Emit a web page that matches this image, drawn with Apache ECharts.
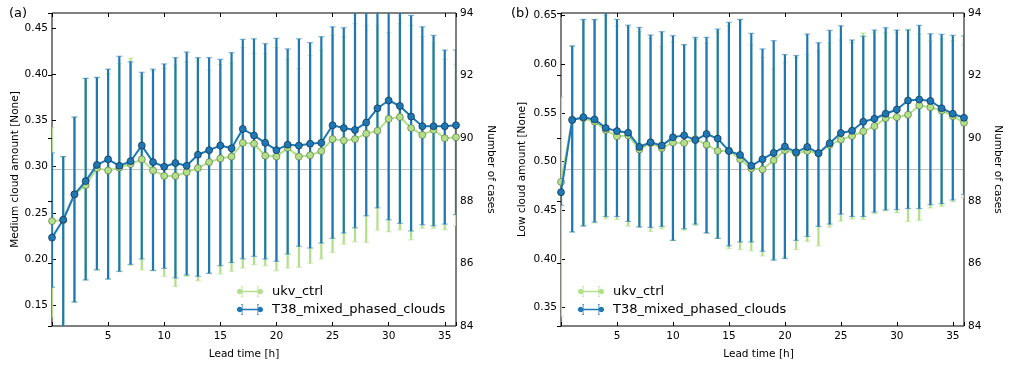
<!DOCTYPE html>
<html>
<head>
<meta charset="utf-8">
<script src="https://cdn.jsdelivr.net/npm/echarts@6/dist/echarts.min.js"></script>
<style>
html,body{margin:0;padding:0;background:#fff;}
#chart{width:1010px;height:367px;}
</style>
</head>
<body>
<div id="chart"></div>
<script>
// ---------------- DATA ----------------
const leadTimes = [0,1,2,3,4,5,6,7,8,9,10,11,12,13,14,15,16,17,18,19,20,21,22,23,24,25,26,27,28,29,30,31,32,33,34,35,36];

// Panel (a): Medium cloud amount
const medCtrlMean = [0.241,0.242,0.270,0.280,0.2985,0.296,0.299,0.303,0.308,0.296,0.290,0.290,0.294,0.2985,0.305,0.309,0.311,0.326,0.325,0.312,0.311,0.3205,0.311,0.3125,0.317,0.330,0.3285,0.330,0.336,0.339,0.352,0.354,0.342,0.3346,0.340,0.331,0.332];
const medCtrlHigh = [0.3426,0.311,0.354,0.396,0.397,0.4008,0.412,0.418,0.398,0.404,0.407,0.4105,0.414,0.415,0.4048,0.411,0.413,0.4294,0.4232,0.4229,0.4294,0.4167,0.4066,0.421,0.4268,0.4427,0.4413,0.4554,0.4536,0.4536,0.4457,0.4554,0.4536,0.4413,0.4348,0.4167,0.4113];
const medCtrlLow  = [0.1365,0.125,0.153,0.177,0.188,0.178,0.186,0.193,0.188,0.1873,0.181,0.170,0.181,0.176,0.184,0.1835,0.1864,0.190,0.1937,0.1925,0.187,0.190,0.1908,0.1951,0.1998,0.207,0.216,0.2186,0.2179,0.2312,0.2294,0.2316,0.2207,0.2331,0.2331,0.2316,0.236];
const medT38Mean  = [0.223,0.2424,0.270,0.2844,0.302,0.308,0.301,0.306,0.323,0.305,0.300,0.304,0.301,0.313,0.318,0.323,0.320,0.341,0.334,0.326,0.318,0.324,0.323,0.325,0.326,0.345,0.342,0.340,0.348,0.3635,0.372,0.366,0.3545,0.344,0.344,0.344,0.345];
const medT38High  = [0.315,0.311,0.354,0.396,0.397,0.406,0.420,0.414,0.4026,0.406,0.4117,0.4185,0.4246,0.4185,0.4185,0.4167,0.424,0.4384,0.439,0.4337,0.4395,0.428,0.439,0.4348,0.4413,0.452,0.451,0.472,0.478,0.482,0.500,0.485,0.4644,0.452,0.4427,0.4268,0.4268];
const medT38Low   = [0.169,0.115,0.153,0.177,0.188,0.178,0.1864,0.194,0.1998,0.1873,0.1897,0.1792,0.1824,0.181,0.1843,0.1925,0.196,0.200,0.2027,0.1998,0.1973,0.2052,0.2136,0.2117,0.2171,0.2222,0.228,0.2337,0.2467,0.2554,0.2424,0.2385,0.2302,0.237,0.2359,0.2377,0.248];

// Panel (b): Low cloud amount
const lowCtrlMean = [0.479,0.543,0.5445,0.5408,0.5322,0.5258,0.5268,0.5122,0.519,0.5136,0.5194,0.519,0.523,0.5173,0.5108,0.511,0.5023,0.4929,0.4918,0.5013,0.5115,0.5085,0.5108,0.5085,0.517,0.5224,0.5261,0.5309,0.5363,0.5445,0.5455,0.548,0.5575,0.5557,0.5523,0.5465,0.5398];
const lowCtrlHigh = [0.566,0.6187,0.645,0.645,0.650,0.639,0.638,0.6333,0.6265,0.618,0.6224,0.6197,0.6255,0.6214,0.633,0.639,0.645,0.620,0.6071,0.5952,0.6016,0.6067,0.610,0.6136,0.6214,0.6248,0.622,0.632,0.632,0.6323,0.632,0.636,0.631,0.6238,0.626,0.624,0.620];
const lowCtrlLow  = [0.341,0.4276,0.4337,0.4368,0.4411,0.4405,0.4337,0.4327,0.4282,0.4309,0.419,0.4293,0.4343,0.4265,0.421,0.4105,0.4095,0.4082,0.403,0.400,0.402,0.4095,0.418,0.4133,0.4327,0.4388,0.441,0.4405,0.4465,0.4493,0.4473,0.4384,0.4394,0.4523,0.454,0.4585,0.463];
const lowT38Mean  = [0.4684,0.5425,0.5455,0.5432,0.5343,0.5312,0.5296,0.5149,0.5197,0.5163,0.5248,0.5268,0.522,0.5282,0.5235,0.5108,0.5067,0.4955,0.5023,0.5088,0.5153,0.5095,0.5149,0.5085,0.5187,0.5292,0.5316,0.5408,0.5439,0.549,0.5534,0.5626,0.5636,0.5622,0.5547,0.549,0.5449];
const lowT38High  = [0.480,0.6187,0.6459,0.6459,0.658,0.6459,0.640,0.6377,0.6299,0.6333,0.6292,0.620,0.6275,0.6275,0.636,0.6429,0.6459,0.6316,0.6156,0.6241,0.6098,0.6088,0.6309,0.622,0.6347,0.6394,0.6248,0.6286,0.635,0.6374,0.635,0.635,0.6398,0.6312,0.6306,0.6296,0.629];
const lowT38Low   = [0.455,0.4276,0.4337,0.4378,0.4435,0.4435,0.4384,0.4327,0.4323,0.4333,0.419,0.4309,0.4357,0.4265,0.421,0.4133,0.4173,0.4173,0.4078,0.3986,0.4003,0.419,0.423,0.4333,0.4357,0.4459,0.4435,0.4435,0.448,0.4503,0.4506,0.4517,0.4517,0.4557,0.4567,0.4605,0.466];

// Number of cases (right axes)
const numCases = [89,89,89,89,89,89,89,89,89,89,89,89,89,89,89,89,89,89,89,89,89,89,89,89,89,89,89,89,89,89,89,89,89,89,89,89,89];

// Tick labels
const xTicks = [5,10,15,20,25,30,35];
const medTicks = [0.15,0.20,0.25,0.30,0.35,0.40,0.45];
const lowTicks = [0.35,0.40,0.45,0.50,0.55,0.60,0.65];
const caseTicks = [84,86,88,90,92,94];

const seriesNames = ['ukv_ctrl','T38_mixed_phased_clouds'];

// ---------------- STYLE ----------------
const GREEN = '#b2df8a', BLUE = '#1f78b4';
const FONT = 'DejaVu Sans';
const FS = 10.5;

function zip(a,b,c){ return leadTimes.map((t,i)=>c?[t,a[i],b[i]]:[t,a[i]]); }

function errRender(color){
  return function(params, api){
    const x = api.value(0);
    const pLo = api.coord([x, api.value(1)]);
    const pHi = api.coord([x, api.value(2)]);
    const cap = 3;
    return {type:'group', children:[
      {type:'line', shape:{x1:pLo[0],y1:pLo[1],x2:pHi[0],y2:pHi[1]}, style:{stroke:color,lineWidth:2.2}},
      {type:'line', shape:{x1:pLo[0]-cap,y1:pLo[1],x2:pLo[0]+cap,y2:pLo[1]}, style:{stroke:color,lineWidth:1.2,opacity:0.55}},
      {type:'line', shape:{x1:pHi[0]-cap,y1:pHi[1],x2:pHi[0]+cap,y2:pHi[1]}, style:{stroke:color,lineWidth:1.2,opacity:0.55}}
    ]};
  };
}

const legendIcon = 'path://M3.2,1H5.2V2H4.6V6.3H21.4V2H20.8V1H22.8V2H22.2V5.1A3,3,0,1,1,22.2,8.9V12H22.8V13H20.8V12H21.4V7.7H4.6V12H5.2V13H3.2V12H3.8V8.9A3,3,0,1,1,3.8,5.1V2H3.2Z';

function xAxes(gridIndex, pos){
  return {
    type:'value', gridIndex, position:pos, min:0, max:36, interval:5,
    axisLine:{show:false},
    axisTick:{show:true, inside:true, length:4, lineStyle:{color:'#000'}},
    splitLine:{show:false},
    axisLabel: pos==='bottom' ? {show:true, customValues:xTicks, color:'#000', fontFamily:FONT, fontSize:FS, margin:5} : {show:false},
    name: pos==='bottom' ? 'Lead time [h]' : '',
    nameLocation:'middle', nameGap:23,
    nameTextStyle:{color:'#000', fontFamily:FONT, fontSize:FS, padding:[0, gridIndex===0?20:8, 0, 0]}
  };
}
function yAxis(gridIndex, pos, min, max, ticks, name, gap, rot, fmt){
  return {
    type:'value', gridIndex, position:pos, min, max,
    axisLine:{show:false},
    axisTick:{show:true, inside:true, length:4, customValues:ticks, lineStyle:{color:'#000'}},
    splitLine:{show:false},
    axisLabel:{show:true, customValues:ticks, color:'#000', fontFamily:FONT, fontSize:FS, margin:4, formatter:fmt},
    name, nameLocation:'middle', nameGap:gap, nameRotate:rot,
    nameTextStyle:{color:'#000', fontFamily:FONT, fontSize:FS}
  };
}

function panelSeries(g, ctrlMean, ctrlLow, ctrlHigh, t38Mean, t38Low, t38High){
  const xi = g, yl = g*2, yr = g*2+1;
  return [
    {type:'line', name:'cases', xAxisIndex:xi, yAxisIndex:yr, data:zip(numCases), symbol:'none', silent:true,
     lineStyle:{color:'#c0c0c0', width:1}, z:1},
    {type:'custom', name:'ctrl_err', xAxisIndex:xi, yAxisIndex:yl, data:zip(ctrlLow,ctrlHigh,true), renderItem:errRender(GREEN), clip:true, z:2},
    {type:'custom', name:'t38_err', xAxisIndex:xi, yAxisIndex:yl, data:zip(t38Low,t38High,true), renderItem:errRender(BLUE), clip:true, z:3},
    {type:'line', name:seriesNames[0], xAxisIndex:xi, yAxisIndex:yl, data:zip(ctrlMean), symbol:'circle', symbolSize:7,
     itemStyle:{color:GREEN, borderColor:'rgba(40,60,30,0.55)', borderWidth:0.8}, lineStyle:{color:GREEN, width:2}, z:4, clip:true},
    {type:'line', name:seriesNames[1], xAxisIndex:xi, yAxisIndex:yl, data:zip(t38Mean), symbol:'circle', symbolSize:7,
     itemStyle:{color:BLUE, borderColor:'rgba(10,40,70,0.8)', borderWidth:0.8}, lineStyle:{color:BLUE, width:2}, z:5, clip:true}
  ];
}

const legendCommon = {
  orient:'vertical', itemWidth:26, itemHeight:14, itemGap:5, icon:legendIcon,
  selectedMode:false, data:seriesNames,
  itemStyle:{borderWidth:0},
  textStyle:{color:'#000', fontFamily:FONT, fontSize:13, padding:[0,0,0,4]}
};

const chart = echarts.init(document.getElementById('chart'), null, {renderer:'canvas'});
chart.setOption({
  animation:false,
  backgroundColor:'#fff',
  grid:[
    {left:52, right:554, top:13, bottom:41, show:true, borderColor:'#000', borderWidth:1, backgroundColor:'transparent'},
    {left:561, right:46, top:13, bottom:41, show:true, borderColor:'#000', borderWidth:1, backgroundColor:'transparent'}
  ],
  xAxis:[xAxes(0,'bottom'), xAxes(1,'bottom'), xAxes(0,'top'), xAxes(1,'top')],
  yAxis:[
    yAxis(0,'left',0.127,0.467,medTicks,'Medium cloud amount [None]',31,90,v=>v.toFixed(2)),
    yAxis(0,'right',84,94,caseTicks,'Number of cases',29,-90,v=>String(v)),
    yAxis(1,'left',0.331,0.6525,lowTicks,'Low cloud amount [None]',33,90,v=>v.toFixed(2)),
    yAxis(1,'right',84,94,caseTicks,'Number of cases',28,-90,v=>String(v))
  ],
  legend:[
    Object.assign({left:232, top:280}, legendCommon),
    Object.assign({left:573, top:280}, legendCommon)
  ],
  graphic:[
    {type:'text', left:9, top:7, style:{text:'(a)', font:'13px "DejaVu Sans"', fill:'#000'}},
    {type:'text', left:511, top:7, style:{text:'(b)', font:'13px "DejaVu Sans"', fill:'#000'}}
  ],
  series:[].concat(
    panelSeries(0, medCtrlMean, medCtrlLow, medCtrlHigh, medT38Mean, medT38Low, medT38High),
    panelSeries(1, lowCtrlMean, lowCtrlLow, lowCtrlHigh, lowT38Mean, lowT38Low, lowT38High)
  )
});
</script>
</body>
</html>
